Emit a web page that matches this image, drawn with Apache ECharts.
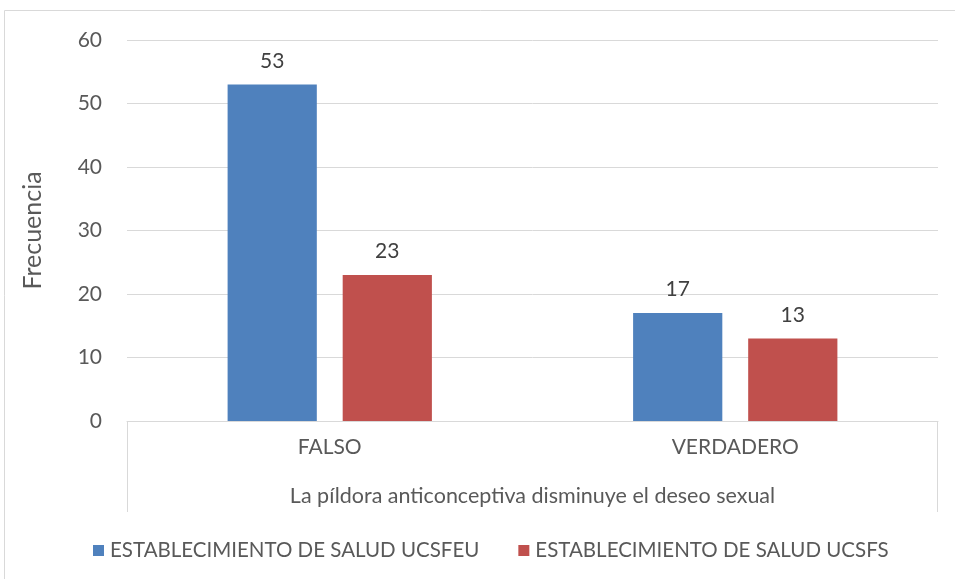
<!DOCTYPE html>
<html><head><meta charset="utf-8">
<script src="https://cdn.jsdelivr.net/npm/echarts@6/dist/echarts.min.js"></script>
<style>html,body{margin:0;padding:0;background:#fff}#c{width:955px;height:579px}</style>
</head><body><div id="c"></div>
<script>
const categories = ['FALSO', 'VERDADERO'];
const groupLabel = 'La píldora anticonceptiva disminuye el deseo sexual';
const seriesNames = ['ESTABLECIMIENTO DE SALUD UCSFEU', 'ESTABLECIMIENTO DE SALUD UCSFS'];
const ucsfeu = [53, 17];
const ucsfs = [23, 13];
const yTicks = [0, 10, 20, 30, 40, 50, 60];

const FONT = 'Lato';
const TXT = '#595959';
const gridL = 127, gridR = 17, gridT = 40, gridB = 158;
const W = 955, H = 579;
const chart = echarts.init(document.getElementById('c'), null, {renderer: 'canvas'});
chart.setOption({
  animation: false,
  textStyle: {fontFamily: FONT},
  grid: {left: gridL, right: gridR, top: gridT, bottom: gridB},
  legend: {
    bottom: 13, left: 88, itemWidth: 11, itemHeight: 11, itemGap: 39, icon: 'rect',
    textStyle: {fontFamily: FONT, fontSize: 20.5, color: TXT, padding: [0, 0, 0, 1]},
    data: seriesNames
  },
  xAxis: {
    type: 'category', data: categories,
    axisLine: {lineStyle: {color: '#D9D9D9'}},
    axisTick: {show: false},
    axisLabel: {fontFamily: FONT, fontSize: 21, color: TXT, margin: 16},
    name: groupLabel, nameLocation: 'middle', nameGap: 64,
    nameTextStyle: {fontFamily: FONT, fontSize: 21.5, color: TXT}
  },
  yAxis: {
    type: 'value', min: yTicks[0], max: yTicks[yTicks.length - 1], interval: 10,
    axisLine: {show: false}, axisTick: {show: false},
    splitLine: {lineStyle: {color: '#D9D9D9'}},
    axisLabel: {fontFamily: FONT, fontSize: 21, color: TXT, margin: 25},
    name: 'Frecuencia', nameLocation: 'middle', nameGap: 82, nameRotate: 90,
    nameTextStyle: {fontFamily: FONT, fontSize: 25, color: TXT}
  },
  series: [
    {name: seriesNames[0], type: 'bar', data: ucsfeu, barWidth: '22%', barGap: '29%',
     itemStyle: {color: '#4F81BD'},
     label: {show: true, position: 'top', distance: 13, fontFamily: FONT, fontSize: 21, color: '#404040'}},
    {name: seriesNames[1], type: 'bar', data: ucsfs, barWidth: '22%', barGap: '29%',
     itemStyle: {color: '#C0504D'},
     label: {show: true, position: 'top', distance: 13, fontFamily: FONT, fontSize: 21, color: '#404040'}}
  ],
  graphic: [
    {type: 'rect', shape: {x: 4.5, y: 10.5, width: 980, height: 600}, style: {fill: null, stroke: '#D9D9D9', lineWidth: 1}, silent: true},
    {type: 'line', shape: {x1: gridL + 0.5, y1: H - gridB, x2: gridL + 0.5, y2: 512}, style: {stroke: '#D9D9D9', lineWidth: 1}},
    {type: 'line', shape: {x1: W - gridR - 0.5, y1: H - gridB, x2: W - gridR - 0.5, y2: 512}, style: {stroke: '#D9D9D9', lineWidth: 1}}
  ]
});
</script></body></html>
